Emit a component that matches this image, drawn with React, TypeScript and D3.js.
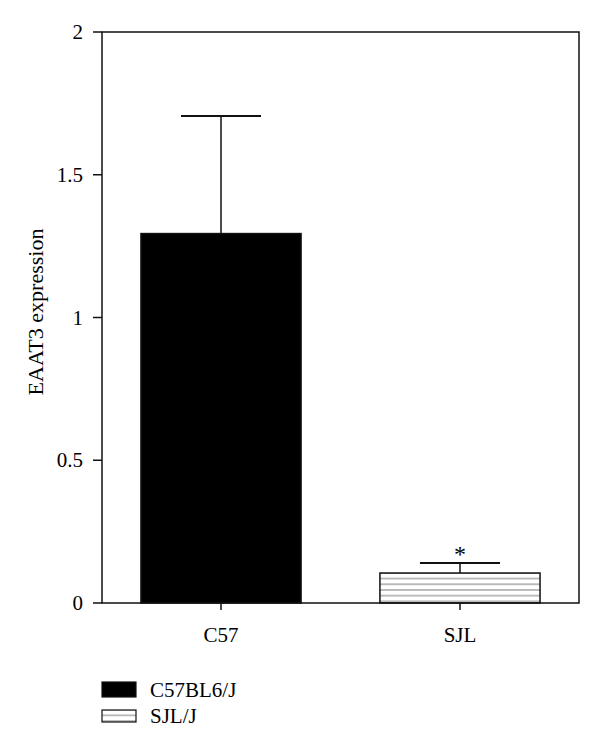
import React from "react";
import * as d3 from "d3";

const categories = ["C57", "SJL"];
const means = [1.294, 0.105];
const errors = [0.412, 0.035];
const yTicks = [0, 0.5, 1, 1.5, 2];
const yTickLabels = ["0", "0.5", "1", "1.5", "2"];
const legendLabels = ["C57BL6/J", "SJL/J"];
const yLabel = "EAAT3 expression";

export default function App() {
  const W = 600, H = 752;
  const left = 102, right = 579, top = 32, bottom = 603;
  const y = d3.scaleLinear().domain([0, 2]).range([bottom, top]);
  const x = d3.scaleBand().domain(categories).range([left, right]).paddingInner(0.33).paddingOuter(0.163);
  const font = "Liberation Serif, DejaVu Serif, serif";
  return (
    <svg width={W} height={H} style={{ position: "absolute", left: 0, top: 0 }}>
      <defs>
        <pattern id="stripes" patternUnits="userSpaceOnUse" width="8" height="5.7">
          <rect width="8" height="5.7" fill="white" />
          <line x1="0" x2="8" y1="2.85" y2="2.85" stroke="#999" strokeWidth="1.3" />
        </pattern>
      </defs>
      <rect width={W} height={H} fill="white" />
      <g style={{ fontFamily: font }}>
        {categories.map((c, i) => {
          const x0 = x(c)!;
          const bw = x.bandwidth();
          const cx = x0 + bw / 2;
          const yt = y(means[i]);
          const ye = y(means[i] + errors[i]);
          const capW = bw / 2;
          return (
            <g key={c}>
              <line x1={cx} x2={cx} y1={yt} y2={ye} stroke="#111" strokeWidth={1.5} />
              <line x1={cx - capW / 2} x2={cx + capW / 2} y1={ye} y2={ye} stroke="#111" strokeWidth={2} />
              <rect x={x0} y={yt} width={bw} height={bottom - yt}
                fill={i === 0 ? "#000" : "url(#stripes)"} stroke="#111" strokeWidth={1.5} />
              <line x1={cx} x2={cx} y1={bottom} y2={bottom + 7} stroke="#111" strokeWidth={1.5} />
              <text x={cx} y={bottom + 39} textAnchor="middle" fontSize={21}>{c}</text>
              {i === 1 && (
                <text x={cx} y={ye - 1} textAnchor="middle" fontSize={24}>*</text>
              )}
            </g>
          );
        })}
        <rect x={left} y={top} width={right - left} height={bottom - top} fill="none" stroke="#111" strokeWidth={1.5} />
        {yTicks.map((t, i) => (
          <g key={t}>
            <line x1={left - 9} x2={left} y1={y(t)} y2={y(t)} stroke="#111" strokeWidth={1.5} />
            <text x={left - 19} y={y(t) + 7} textAnchor="end" fontSize={21}>{yTickLabels[i]}</text>
          </g>
        ))}
        <text transform={`translate(43,312) rotate(-90)`} textAnchor="middle" fontSize={22}>{yLabel}</text>
        {legendLabels.map((l, i) => (
          <g key={l}>
            <rect x={102} y={682 + i * 28} width={34} height={i === 0 ? 15 : 12}
              fill={i === 0 ? "#000" : "url(#stripes)"} stroke="#111" strokeWidth={1.2} />
            <text x={150} y={697 + i * 26} fontSize={21}>{l}</text>
          </g>
        ))}
      </g>
    </svg>
  );
}
